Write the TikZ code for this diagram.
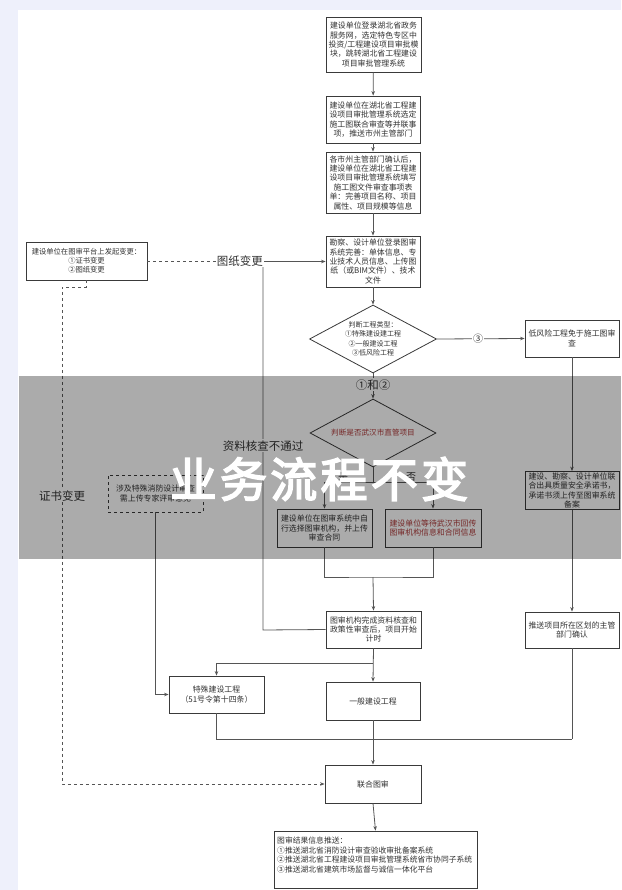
\documentclass[tikz,border=0pt]{standalone}
\usepackage{fontspec}
\setmainfont{Noto Sans CJK SC}
\newfontfamily\bigfont[FakeBold=3.5,LetterSpace=7]{Noto Sans CJK SC}
\usetikzlibrary{arrows.meta,shapes.geometric}
\definecolor{lav}{HTML}{EEF0FB}
\definecolor{edgec}{HTML}{3A3A3A}
\definecolor{wire}{HTML}{555555}
\definecolor{txt}{HTML}{333333}
\definecolor{redt}{HTML}{B03A3A}
\tikzset{
  bx/.style={draw=edgec, line width=0.8pt, fill=white, align=center, text=txt, inner sep=0pt, font=\fontsize{7.9}{9.4}\selectfont},
  dia/.style={draw=edgec, line width=0.8pt, fill=white, diamond, inner sep=0pt},
  wirestyle/.style={draw=wire, line width=0.8pt},
  arr/.style={wirestyle, -{Stealth[length=4.5pt,width=3.5pt]}},
  lbl/.style={fill=white, text=txt, inner sep=1pt, font=\fontsize{11.5}{12}\selectfont},
}
\begin{document}
\begin{tikzpicture}[x=1pt,y=-1pt]
\useasboundingbox (0,0) rectangle (621,890);
\fill[lav] (0,0) rectangle (621,890);
\fill[white] (18,10) rectangle (621,890);

% main column
\node[bx, minimum width=95pt, minimum height=55pt] (A) at (373.5,44.5)
  {建设单位登录湖北省政务\\服务网，选定特色专区中\\投资/工程建设项目审批模\\块，跳转湖北省工程建设\\项目审批管理系统};
\node[bx, minimum width=94pt, minimum height=47pt] (B) at (373,119.5)
  {建设单位在湖北省工程建\\设项目审批管理系统选定\\施工图联合审查等并联事\\项，推送市州主管部门};
\node[bx, minimum width=94pt, minimum height=61pt] (C) at (373,182.5)
  {各市州主管部门确认后，\\建设单位在湖北省工程建\\设项目审批管理系统填写\\施工图文件审查事项表\\单：完善项目名称、项目\\属性、项目规模等信息};
\node[bx, minimum width=94pt, minimum height=51pt] (D) at (373,261.5)
  {勘察、设计单位登录图审\\系统完善：单体信息、专\\业技术人员信息、上传图\\纸（或BIM文件）、技术\\文件};
\node[dia, minimum width=127pt, minimum height=68pt] (E) at (373,339) {};
\node[align=center, text=txt, font=\fontsize{7}{9.3}\selectfont] at (E) {判断工程类型：\\①特殊建设建工程\\②一般建设工程\\③低风险工程};
\node[dia, minimum width=126pt, minimum height=68pt] (F) at (373,433) {};
\node[text=redt, font=\fontsize{7.6}{9}\selectfont] at (F) {判断是否武汉市直管项目};
\node[bx, minimum width=95pt, minimum height=38pt] (G) at (324.5,528)
  {建设单位在图审系统中自\\行选择图审机构，并上传\\审查合同};
\node[bx, minimum width=96pt, minimum height=38pt, text=redt] (H) at (433,528)
  {建设单位等待武汉市回传\\图审机构信息和合同信息};
\node[bx, minimum width=95pt, minimum height=37pt] (I) at (373.5,629.5)
  {图审机构完成资料核查和\\政策性审查后，项目开始\\计时};
\node[bx, minimum width=95pt, minimum height=37pt] (S) at (216.5,694.5)
  {特殊建设工程\\（51号令第十四条）};
\node[bx, minimum width=94pt, minimum height=38pt] (GN) at (373,701) {一般建设工程};
\node[bx, minimum width=96pt, minimum height=38pt] (J) at (373,784) {联合图审};
\node[bx, minimum width=203pt, minimum height=57pt] (R) at (375.5,859.5) {};
\node[anchor=north west, align=left, text=txt, inner sep=0pt, font=\fontsize{7.8}{9.4}\selectfont] at (277,837)
  {图审结果信息推送：\\①推送湖北省消防设计审查验收审批备案系统\\②推送湖北省工程建设项目审批管理系统省市协同子系统\\③推送湖北省建筑市场监督与诚信一体化平台};

% right column
\node[bx, minimum width=94pt, minimum height=37pt] (LR) at (572,338.5) {低风险工程免于施工图审\\查};
\node[bx, minimum width=94pt, minimum height=38pt] (CM) at (572,490.5)
  {建设、勘察、设计单位联\\合出具质量安全承诺书，\\承诺书须上传至图审系统\\备案};
\node[bx, minimum width=94pt, minimum height=36pt] (P) at (572,630) {推送项目所在区划的主管\\部门确认};

% left side
\node[bx, minimum width=121pt, minimum height=38pt, font=\fontsize{7.3}{9}\selectfont] (L) at (86.5,261)
  {建设单位在图审平台上发起变更：\\①证书变更\\②图纸变更};
\node[bx, dashed, minimum width=95pt, minimum height=37pt] (FB) at (155.5,493.5)
  {涉及特殊消防设计审查\\需上传专家评审意见};

% coordinates
\coordinate (s) at (373,482);
\coordinate (j) at (373,577);
\coordinate (lp) at (263,630);
\coordinate (cb) at (62,784);
\coordinate (ct) at (62,287);
\coordinate (br) at (373,663);
\coordinate (m) at (572,739);

% connectors main
\draw[arr] (A) -- (B);
\draw[arr] (B) -- (C);
\draw[arr] (C) -- (D);
\draw[arr] (D) -- (E.north);
\draw[arr] (E.south) -- node[lbl, pos=0.45] {①和②} (F.north);
\draw[arr] (E.east) -- node[lbl, font=\fontsize{10}{11}\selectfont, pos=0.47] {③} (LR.west);
\draw[wirestyle] (F.south) -- (s);
\draw[arr] (s) -| (G.north);
\draw[arr] (s) -| (H.north);
\draw[wirestyle] (G.south) |- (j) -| (H.south);
\draw[arr] (j) -- (I.north);
\draw[arr] (I.west) -- (lp) |- node[lbl, pos=0.25] {资料核查不通过} (D.west);
\draw[arr] (I.south) -- (GN.north);
\draw[arr] (br) -| (S.north);
\draw[arr] (GN.south) -- (J.north);
\draw[wirestyle] (S.south) |- (m);
\draw[wirestyle] (P.south) -- (m);
\draw[arr] (LR.south) -- (CM.north);
\draw[arr] (CM.south) -- (P.north);
\draw[arr] (J.south) -- (R.north);
\draw[arr] (FB.south) |- (S.west);

% left dashed connectors
\draw[wirestyle, dashed] (L.east) -- node[lbl, pos=0.8] {图纸变更} (lp |- L.east);
\draw[arr, dashed] (L.south) |- (ct) -- node[lbl, pos=0.42] {证书变更} (cb) -- (J.west);

% yes / no
\node[text=txt, font=\fontsize{10}{11}\selectfont] at (343,477) {是};
\node[text=txt, font=\fontsize{10}{11}\selectfont] at (411,477) {否};

% overlay band and big text
\fill[black, opacity=0.33] (19,376) rectangle (621,559);
\node[text=white, font=\bigfont\fontsize{47}{47}\selectfont] (big) at (319,479) {业务流程不变};
\end{tikzpicture}
\end{document}
